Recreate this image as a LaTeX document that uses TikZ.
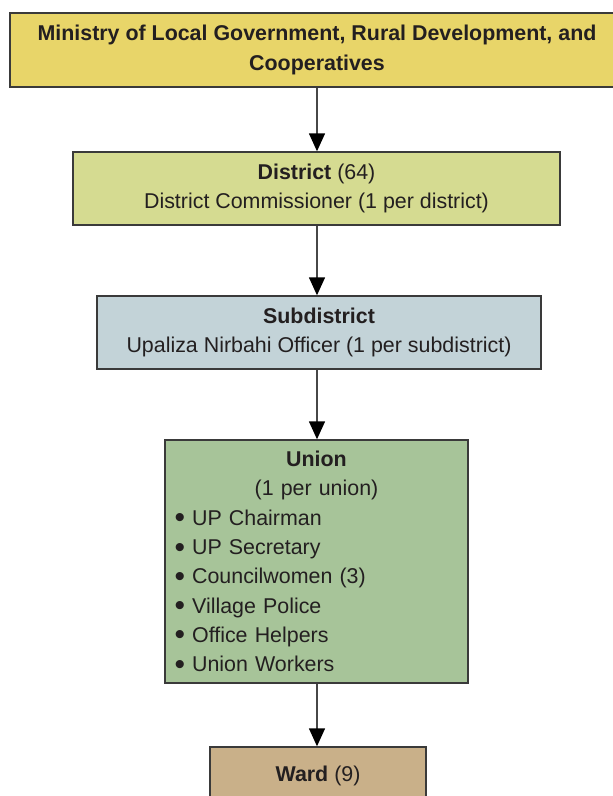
\documentclass[tikz,border=0pt]{standalone}
\usepackage{fontspec}
\setmainfont{Liberation Sans}
\usetikzlibrary{arrows.meta}
\definecolor{txt}{HTML}{231F20}
\definecolor{edge}{HTML}{3A3A3A}
\definecolor{cmin}{HTML}{E8D569}
\definecolor{cdist}{HTML}{D5DB91}
\definecolor{csub}{HTML}{C3D3D8}
\definecolor{cunion}{HTML}{A7C499}
\definecolor{cward}{HTML}{C9B089}
\newcommand{\bigbul}{\smash{\raisebox{-0.12em}{\scalebox{1.4}{\textbullet}}}}
\begin{document}
\begin{tikzpicture}[x=1pt,y=-1pt,
  box/.style={draw=edge, line width=1.4pt, inner sep=0pt, text=txt, align=center,
    font=\fontsize{21.4}{29.3}\selectfont},
  arr/.style={draw=black!72, line width=1.4pt, -{Triangle[width=16pt,length=18pt,fill=black,color=black]}}]
\useasboundingbox (0,0) rectangle (613,796);
\coordinate (axis) at (317,0);
\node[box, fill=cmin, minimum width=614pt, minimum height=74pt] (min) at (317,50)
  {\textbf{Ministry of Local Government, Rural Development, and}\\\textbf{Cooperatives}};
\node[box, fill=cdist, minimum width=487pt, minimum height=73pt] (dist) at (316.5,188.5)
  {\textbf{District} (64)\\District Commissioner (1 per district)};
\node[box, fill=csub, minimum width=444pt, minimum height=73pt] (sub) at (319,332.5)
  {\textbf{Subdistrict}\\Upaliza Nirbahi Officer (1 per subdistrict)};
\node[box, fill=cunion, minimum width=303pt, minimum height=243pt, text width=284pt, align=left] (union) at (316.5,561.5)
  {{\centering\textbf{Union}\\(1 per union)\par}\raggedright
   \bigbul\ UP Chairman\\
   \bigbul\ UP Secretary\\
   \bigbul\ Councilwomen (3)\\
   \bigbul\ Village Police\\
   \bigbul\ Office Helpers\\
   \bigbul\ Union Workers};
\node[box, fill=cward, minimum width=216pt, minimum height=58pt] (ward) at (318,776)
  {\textbf{Ward} (9)};
\draw[arr] (min.south -| axis) -- (dist.north -| axis);
\draw[arr] (dist.south -| axis) -- (sub.north -| axis);
\draw[arr] (sub.south -| axis) -- (union.north -| axis);
\draw[arr] (union.south -| axis) -- (ward.north -| axis);
\end{tikzpicture}
\end{document}
